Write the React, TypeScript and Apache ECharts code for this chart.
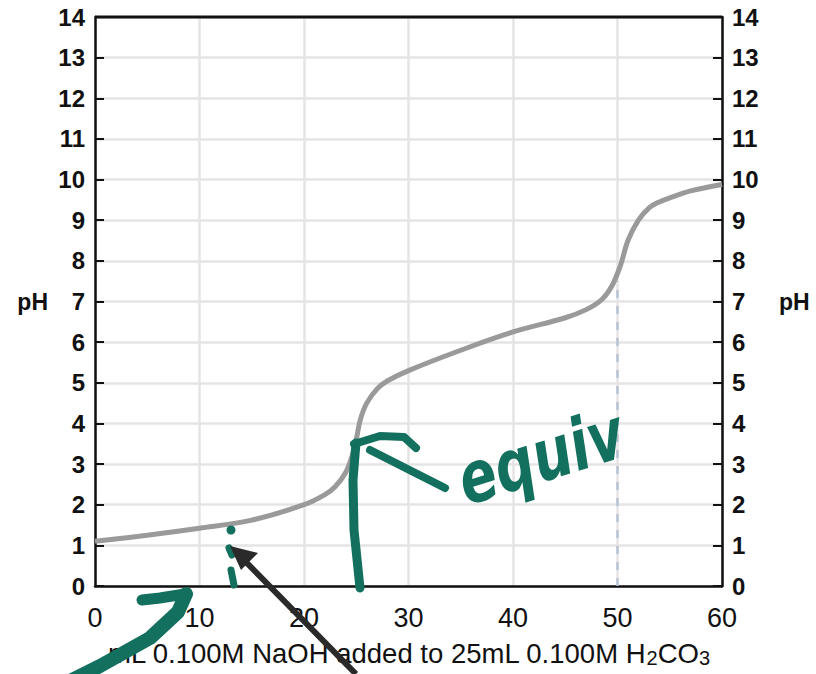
import React, { useEffect, useRef } from "react";
import * as echarts from "echarts";

const volumeML = [0, 5, 10, 15, 20, 22, 23, 24, 24.6, 25, 25.4, 26, 27, 28, 30, 35, 40, 45, 47, 48.5, 49.5, 50.3, 51, 52, 53, 54, 55, 57, 60];
const pHValues = [1.1, 1.25, 1.42, 1.62, 2.0, 2.25, 2.45, 2.8, 3.2, 3.6, 4.1, 4.5, 4.85, 5.05, 5.3, 5.8, 6.25, 6.6, 6.8, 7.05, 7.4, 7.9, 8.5, 9.0, 9.3, 9.45, 9.55, 9.72, 9.88];
const xTicks = [0, 10, 20, 30, 40, 50, 60];
const equivDashX = [50, 50];
const equivDashY = [0, 7.5];

const GREEN = "#13705e";

export default function App() {
  const ref = useRef<HTMLDivElement>(null);
  useEffect(() => {
    if (!ref.current) return;
    const chart = echarts.init(ref.current, null, { renderer: "svg" });
    const curve = volumeML.map((v, i) => [v, pHValues[i]]);
    const dash = equivDashX.map((v, i) => [v, equivDashY[i]]);
    const yLabel = { fontFamily: "Liberation Sans, Arial", fontWeight: "bold", fontSize: 24, color: "#111" };
    const evenOnly = (_i: number, v: any) => Number(v) % 2 === 0 && Number(v) > 0 && Number(v) < 14;
    const oddOnly = (_i: number, v: any) => Number(v) % 2 === 1;
    const nameStyle = { fontFamily: "Liberation Sans, Arial", fontWeight: "bold", fontSize: 23, color: "#111" };
    chart.setOption({
      animation: false,
      backgroundColor: "#fff",
      grid: { left: 95, right: 94, top: 17, bottom: 88, containLabel: false, outerBoundsMode: "none" },
      xAxis: {
        type: "value",
        min: 0,
        max: 60,
        interval: 10,
        name: "{n|mL 0.100M NaOH added to 25mL 0.100M H}{s|2}{n|CO}{s|3}",
        nameLocation: "middle",
        nameGap: 52,
        nameTextStyle: {
          rich: {
            n: { fontFamily: "Liberation Sans, Arial", fontSize: 27.5, color: "#111", lineHeight: 30 },
            s: { fontFamily: "Liberation Sans, Arial", fontSize: 20, color: "#111", verticalAlign: "bottom", lineHeight: 22, padding: [7, 0, 0, 0] },
          },
        },
        axisLine: { lineStyle: { color: "#111", width: 2.5 } },
        axisTick: { show: false },
        axisLabel: { fontFamily: "Liberation Sans, Arial", fontSize: 27, color: "#111", margin: 18, formatter: (v: number) => (xTicks.includes(v) ? String(v) : "") },
        splitLine: { show: true, lineStyle: { color: "#e4e4e4", width: 2.5 } },
      },
      yAxis: [
        {
          type: "value",
          min: 0,
          max: 14,
          interval: 1,
          position: "left",
          name: "pH",
          nameLocation: "middle",
          nameRotate: 0,
          nameGap: 47,
          nameTextStyle: nameStyle,
          axisLine: { show: true, lineStyle: { color: "#111", width: 2.5 } },
          axisTick: { show: true, inside: true, length: 9, interval: oddOnly, lineStyle: { color: "#111", width: 2 } },
          axisLabel: { ...yLabel, margin: 10 },
          splitLine: { show: true, interval: evenOnly, lineStyle: { color: "#e4e4e4", width: 2.5 } },
        },
        {
          type: "value",
          min: 0,
          max: 14,
          interval: 1,
          position: "right",
          name: "pH",
          nameLocation: "middle",
          nameRotate: 0,
          nameGap: 57,
          nameTextStyle: nameStyle,
          axisLine: { show: true, lineStyle: { color: "#111", width: 2.5 } },
          axisTick: { show: true, inside: true, length: 9, interval: oddOnly, lineStyle: { color: "#111", width: 2 } },
          axisLabel: { ...yLabel, margin: 10 },
          splitLine: { show: false },
        },
      ],
      series: [
        {
          type: "line",
          data: dash,
          symbol: "none",
          lineStyle: { color: "#b8c4d0", width: 2.5, type: [8, 8] },
          z: 2,
        },
        {
          type: "line",
          data: curve,
          smooth: 0.35,
          symbol: "none",
          lineStyle: { color: "#9a9a9a", width: 5 },
          z: 3,
        },
      ],
      graphic: [
        // top border
        { type: "line", shape: { x1: 95, y1: 17, x2: 722, y2: 17 }, style: { stroke: "#111", lineWidth: 3 }, z: 10 },
        // green vertical arrow to equivalence point
        { type: "polyline", shape: { points: [[360, 588], [354, 530], [353, 480], [356, 443]] }, style: { stroke: GREEN, lineWidth: 9, lineCap: "round", lineJoin: "round", fill: "none" }, z: 20 },
        { type: "polyline", shape: { points: [[354, 444], [380, 436], [404, 437], [416, 448]] }, style: { stroke: GREEN, lineWidth: 8, lineCap: "round", lineJoin: "round", fill: "none" }, z: 20 },
        { type: "line", shape: { x1: 370, y1: 450, x2: 445, y2: 488 }, style: { stroke: GREEN, lineWidth: 8, lineCap: "round" }, z: 20 },
        {
          type: "text",
          x: 470,
          y: 516,
          rotation: 0.3,
          scaleY: 1.3,
          style: { text: "equiv", fill: GREEN, font: "bold italic 55px 'DejaVu Sans'", textVerticalAlign: "bottom" },
          z: 20,
        },
        // green dotted marks near x = 13
        { type: "circle", shape: { cx: 231, cy: 530, r: 4.5 }, style: { fill: GREEN }, z: 20 },
        { type: "polyline", shape: { points: [[229, 548], [232, 555]] }, style: { stroke: GREEN, lineWidth: 7, lineCap: "round", fill: "none" }, z: 20 },
        { type: "polyline", shape: { points: [[231, 570], [234, 585]] }, style: { stroke: GREEN, lineWidth: 7, lineCap: "round", fill: "none" }, z: 20 },
        // black arrow
        { type: "line", shape: { x1: 356, y1: 674, x2: 240, y2: 556 }, style: { stroke: "#2a2a2a", lineWidth: 6 }, z: 21 },
        { type: "polygon", shape: { points: [[230, 546], [258, 553], [241, 570]] }, style: { fill: "#2a2a2a" }, z: 21 },
        // green bottom-left stroke
        { type: "polyline", shape: { points: [[142, 600], [160, 598], [185, 594]] }, style: { stroke: GREEN, lineWidth: 11, lineCap: "round", fill: "none" }, z: 20 },
        { type: "polyline", shape: { points: [[186, 594], [178, 612], [150, 638], [100, 666], [72, 680]] }, style: { stroke: GREEN, lineWidth: 14, lineCap: "round", lineJoin: "round", fill: "none" }, z: 20 },
      ],
    });
    return () => chart.dispose();
  }, []);
  return <div ref={ref} style={{ width: 816, height: 674, position: "absolute", left: 0, top: 0 }} />;
}
